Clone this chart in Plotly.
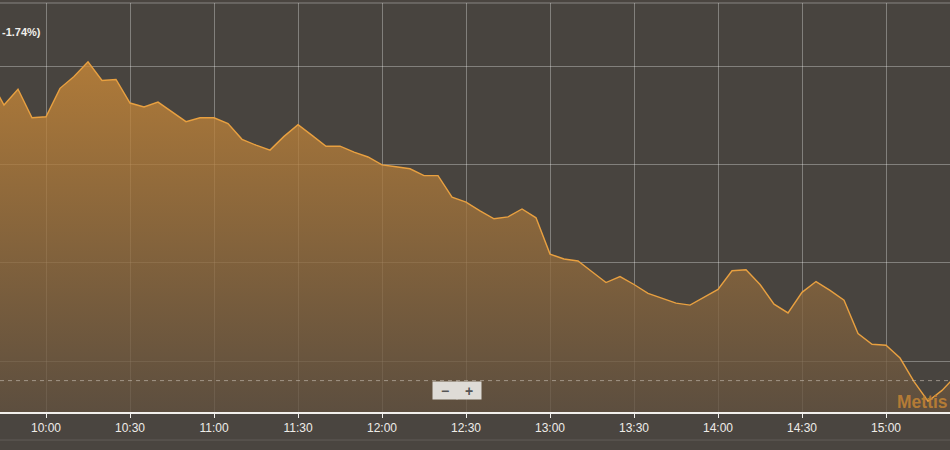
import pandas as pd
import plotly.graph_objects as go

# 5-minute intraday prices
start_time = "2024-01-02 09:40"
prices = [
    3328.7, 3326.1, 3327.7, 3324.8, 3324.9, 3327.8, 3329.0, 3330.5, 3328.6, 3328.7,
    3326.3, 3325.9, 3326.4, 3325.4, 3324.4, 3324.8, 3324.8, 3324.2, 3322.6, 3322.0,
    3321.5, 3322.9, 3324.1, 3323.0, 3321.9, 3321.9, 3321.3, 3320.8, 3320.0, 3319.8,
    3319.6, 3318.9, 3318.9, 3316.7, 3316.2, 3315.3, 3314.5, 3314.7, 3315.5, 3314.6,
    3310.9, 3310.4, 3310.2, 3309.1, 3308.0, 3308.6, 3307.8, 3306.9, 3306.4, 3305.9,
    3305.7, 3306.5, 3307.3, 3309.2, 3309.3, 3307.8, 3305.8, 3304.9, 3307.0, 3308.1,
    3307.2, 3306.2, 3302.8, 3301.7, 3301.6, 3300.3, 3297.9, 3295.9, 3297.0, 3298.5,
]
times = pd.date_range(start_time, periods=len(prices), freq="5min")
reference_level = 3298.0
change_label = "-1.74%)"
watermark = "Mettis"

x_range = ["2024-01-02 09:43:34", "2024-01-02 15:22:51"]
y_range = [3294.8, 3336.5]

fig = go.Figure()
fig.add_trace(go.Scatter(
    x=times, y=prices, mode="lines",
    line=dict(color="rgb(232,160,64)", width=1.4),
    fill="tozeroy",
    fillgradient=dict(
        type="vertical",
        colorscale=[[0, "rgba(98,81,63,0.78)"], [1, "rgba(205,138,55,0.78)"]],
        start=3294.8, stop=3331.0,
    ),
    hoverinfo="skip",
))

fig.add_shape(type="line", xref="paper", yref="y", x0=0, x1=1,
              y0=reference_level, y1=reference_level,
              line=dict(color="rgba(205,195,185,0.6)", width=1, dash="4px,4px"))
fig.add_shape(type="line", xref="paper", yref="paper", x0=0, x1=1, y0=1, y1=1,
              line=dict(color="rgba(255,255,255,0.35)", width=1))
fig.add_shape(type="line", xref="paper", yref="paper", x0=0, x1=1, y0=-0.0685, y1=-0.0685,
              line=dict(color="rgba(255,255,255,0.13)", width=1))

# zoom buttons
for label, xc in (("−", 0.4684), ("+", 0.4937)):
    fig.add_annotation(text="<b>" + label + "</b>", xref="paper", yref="paper",
                       x=xc, y=0.0526, xanchor="center", yanchor="middle",
                       showarrow=False, width=23, height=16,
                       bgcolor="#dedbd6", borderpad=0.5,
                       font=dict(family="Liberation Sans", size=14, color="#555"))

fig.add_annotation(text="<b>" + change_label + "</b>", xref="paper", yref="paper",
                   x=0, y=0.929, xanchor="left", yanchor="middle", showarrow=False,
                   font=dict(family="Liberation Sans", size=11, color="#f2f0ec"))
fig.add_annotation(text="<b>" + watermark + "</b>", xref="paper", yref="paper",
                   x=0.9421, y=0.0244, xanchor="left", yanchor="middle", showarrow=False,
                   font=dict(family="Liberation Sans", size=17.5, color="rgba(196,132,52,0.85)"))

fig.update_layout(
    width=950, height=450,
    margin=dict(l=0, r=0, t=3, b=38, autoexpand=False),
    paper_bgcolor="#4a4540",
    plot_bgcolor="#48443f",
    showlegend=False,
    xaxis=dict(
        type="date", range=x_range,
        tick0="2024-01-02 10:00", dtick=1800000, tickformat="%H:%M",
        showgrid=True, gridcolor="rgba(255,255,255,0.32)", gridwidth=1,
        showline=True, linecolor="#f2f0ec", linewidth=2,
        ticks="outside", ticklen=4, tickcolor="#f2f0ec", tickwidth=1,
        tickfont=dict(family="Liberation Sans", size=12, color="#eeece8"),
        zeroline=False, fixedrange=True,
    ),
    yaxis=dict(
        range=y_range, tick0=3300, dtick=10,
        showgrid=True, gridcolor="rgba(255,255,255,0.32)", gridwidth=1,
        showticklabels=False, zeroline=False, showline=False, fixedrange=True,
    ),
)

fig.write_html(
    "out.html",
    config={"displayModeBar": False},
    post_script="document.body.style.margin='0';document.body.style.overflow='hidden';",
)
